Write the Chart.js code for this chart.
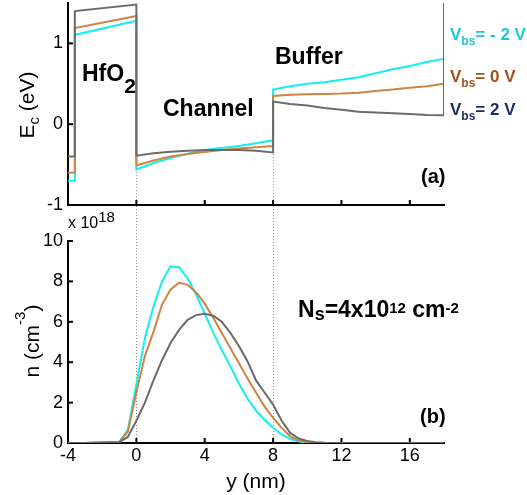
<!DOCTYPE html>
<html>
<head>
<meta charset="utf-8">
<script src="https://cdn.jsdelivr.net/npm/chart.js@4.4.0/dist/chart.umd.min.js"></script>
<style>
body{margin:0;background:#fff;}
#wrap{position:relative;width:527px;height:495px;overflow:hidden;font-family:"Liberation Sans",Arial,sans-serif;}
canvas{position:absolute;left:0;}
.t{position:absolute;white-space:nowrap;line-height:1;color:#000;}
.b{font-weight:bold;}
.r{position:relative;}
</style>
</head>
<body>
<div id="wrap">
<canvas id="ecChart" width="527" height="215" style="top:0"></canvas>
<canvas id="nChart" width="527" height="289" style="top:206px"></canvas>

<div class="t" style="left:26px;top:105px;font-size:21px;transform:translate(-50%,-50%) rotate(-90deg)">E<span class="r" style="font-size:15px;top:5px">c</span> (eV)</div>
<div class="t" style="left:31px;top:341px;font-size:21px;transform:translate(-50%,-50%) rotate(-90deg)">n (cm<span class="r" style="font-size:15px;top:-14px">-3</span>)</div>
<div class="t" style="left:68px;top:215px;font-size:16px">x 10<span class="r" style="font-size:15px;top:-6px">18</span></div>

<div class="t b" style="left:82px;top:62px;font-size:23px">HfO<span class="r" style="font-size:21px;top:12px">2</span></div>
<div class="t b" style="left:163px;top:97px;font-size:23px">Channel</div>
<div class="t b" style="left:275px;top:45px;font-size:23px">Buffer</div>

<div class="t b" style="left:450px;top:26px;font-size:17px;color:#22C6D0">V<span class="r" style="font-size:12px;top:5px">bs</span>= - 2 V</div>
<div class="t b" style="left:450px;top:68px;font-size:17px;color:#A0521E">V<span class="r" style="font-size:12px;top:5px">bs</span>= 0 V</div>
<div class="t b" style="left:450px;top:101px;font-size:17px;color:#1B2F66">V<span class="r" style="font-size:12px;top:5px">bs</span>= 2 V</div>

<div class="t b" style="left:421px;top:166px;font-size:20px">(a)</div>
<div class="t b" style="left:420px;top:406px;font-size:20px">(b)</div>
<div class="t b" style="left:298px;top:298px;font-size:23px">N<span class="r" style="font-size:18px;top:3px">s</span>=4x10<span class="r" style="font-size:15px;top:-4px">12</span> cm<span class="r" style="font-size:15px;top:-4px">-2</span></div>
</div>

<script>
// panel (a): conduction band edge, y in nm
var ecX = [-4, -3.6, -3.6, 0, 0, 1, 2, 3, 4, 5, 6, 7, 8, 8, 9, 10, 11, 12, 13, 14, 15, 16, 17, 18, 18];
var ecPos = [-0.40, -0.40, 1.40, 1.48, -0.39, -0.36, -0.34, -0.33, -0.32, -0.32, -0.32, -0.33, -0.35, 0.28, 0.25, 0.23, 0.20, 0.18, 0.155, 0.145, 0.135, 0.125, 0.115, 0.11, 1.6];
var ecZero = [-0.60, -0.60, 1.19, 1.34, -0.51, -0.45, -0.40, -0.37, -0.345, -0.32, -0.30, -0.285, -0.27, 0.35, 0.365, 0.37, 0.375, 0.38, 0.39, 0.41, 0.43, 0.45, 0.47, 0.50, 1.6];
var ecNeg = [-0.70, -0.70, 1.105, 1.28, -0.56, -0.48, -0.42, -0.365, -0.32, -0.295, -0.27, -0.235, -0.20, 0.43, 0.47, 0.50, 0.52, 0.55, 0.58, 0.63, 0.68, 0.72, 0.77, 0.81, 1.6];

// panel (b): electron density, x 10^18 cm^-3
var nX = [-4, -3, -2, -1, -0.5, 0, 0.5, 1, 1.5, 2, 2.5, 3, 3.5, 4, 4.5, 5, 5.5, 6, 6.5, 7, 7.5, 8, 8.5, 9, 9.5, 10, 10.5, 11, 12, 13, 14, 15, 16, 17, 18];
var nNeg = [0, 0, 0.02, 0.05, 0.65, 2.9, 5.2, 6.75, 8.0, 8.75, 8.7, 8.15, 7.35, 6.4, 5.45, 4.6, 3.8, 2.95, 2.2, 1.6, 1.15, 0.75, 0.42, 0.2, 0.07, 0.02, 0.01, 0, 0, 0, 0, 0, 0, 0, 0];
var nZero = [0, 0, 0.02, 0.05, 0.55, 2.5, 4.3, 5.5, 6.85, 7.6, 7.93, 7.83, 7.45, 6.9, 6.2, 5.45, 4.7, 3.95, 3.2, 2.5, 1.8, 1.25, 0.75, 0.33, 0.12, 0.04, 0.01, 0, 0, 0, 0, 0, 0, 0, 0];
var nPos = [0, 0, 0.02, 0.05, 0.3, 1.1, 2.0, 3.1, 4.1, 4.95, 5.6, 6.1, 6.33, 6.4, 6.3, 6.0, 5.45, 4.8, 4.05, 3.1, 2.5, 1.9, 1.1, 0.5, 0.22, 0.1, 0.04, 0.01, 0, 0, 0, 0, 0, 0, 0];

var xTicks = [-4, 0, 4, 8, 12, 16];
var ecTicks = [-1, 0, 1];
var nTicks = [0, 2, 4, 6, 8, 10];
var markerX = [0, 8];

var colNeg = '#14EEF0', colZero = '#CD8445', colPos = '#6B6B6B';

Chart.defaults.font.family = '"Liberation Sans", Arial, sans-serif';
Chart.defaults.color = '#000';

function pts(xs, ys) {
  return xs.map(function(v, i) { return {x: v, y: ys[i]}; });
}

function line(xs, ys, c) {
  return {data: pts(xs, ys), borderColor: c, borderWidth: 2, pointRadius: 0, tension: 0, fill: false};
}

var deco = {
  id: 'deco',
  beforeDatasetsDraw: function(chart, args, opts) {
    var ctx = chart.ctx, a = chart.chartArea, x = chart.scales.x, y = chart.scales.y;
    ctx.save();
    ctx.strokeStyle = '#8c8c8c';
    ctx.lineWidth = 1;
    ctx.setLineDash([1, 2]);
    markerX.forEach(function(v) {
      var px = Math.round(x.getPixelForValue(v)) + 0.5;
      var top = opts.fromTop ? 0 : y.getPixelForValue(0);
      ctx.beginPath(); ctx.moveTo(px, top); ctx.lineTo(px, a.bottom); ctx.stroke();
    });
    ctx.setLineDash([]);
    ctx.strokeStyle = '#000';
    ctx.lineWidth = 2;
    x.ticks.forEach(function(t) {
      var px = x.getPixelForValue(t.value);
      ctx.beginPath(); ctx.moveTo(px, a.bottom); ctx.lineTo(px, a.bottom - 5); ctx.stroke();
    });
    y.ticks.forEach(function(t) {
      var py = y.getPixelForValue(t.value);
      ctx.beginPath(); ctx.moveTo(a.left, py); ctx.lineTo(a.left + 5, py); ctx.stroke();
    });
    ctx.restore();
  }
};

function setTicks(list) {
  return function(s) { s.ticks = list.map(function(v) { return {value: v}; }); };
}

function makeOptions(o) {
  return {
    responsive: false,
    animation: false,
    layout: {padding: {left: 0, right: 83, top: o.top, bottom: 0}},
    plugins: {legend: {display: false}, tooltip: {enabled: false}, deco: {fromTop: o.fromTop}},
    scales: {
      x: {
        type: 'linear', min: -4, max: 18,
        afterBuildTicks: setTicks(xTicks),
        afterFit: function(s) { s.height = o.xh; s.paddingLeft = 0; s.paddingRight = 0; },
        grid: {drawOnChartArea: false, drawTicks: false},
        border: {color: '#000', width: 2},
        ticks: {display: o.xLabels, font: {size: 18}, padding: 2, maxRotation: 0},
        title: {display: o.xLabels, text: 'y (nm)', font: {size: 21}, padding: {top: 0, bottom: 0}}
      },
      y: {
        min: o.ymin, max: o.ymax,
        afterBuildTicks: setTicks(o.yTicks),
        afterFit: function(s) { s.width = 68; s.paddingTop = 0; s.paddingBottom = 0; },
        grid: {drawOnChartArea: false, drawTicks: false},
        border: {color: '#000', width: 2},
        ticks: {font: {size: 18}, padding: 5}
      }
    }
  };
}

new Chart(document.getElementById('ecChart'), {
  type: 'line',
  data: {datasets: [line(ecX, ecPos, colPos), line(ecX, ecZero, colZero), line(ecX, ecNeg, colNeg)]},
  options: makeOptions({top: 3, xh: 10, xLabels: false, ymin: -1, ymax: 1.5, yTicks: ecTicks, fromTop: false}),
  plugins: [deco]
});

new Chart(document.getElementById('nChart'), {
  type: 'line',
  data: {datasets: [line(nX, nPos, colPos), line(nX, nZero, colZero), line(nX, nNeg, colNeg)]},
  options: makeOptions({top: 35, xh: 52, xLabels: true, ymin: 0, ymax: 10, yTicks: nTicks, fromTop: true}),
  plugins: [deco]
});
</script>
</body>
</html>
